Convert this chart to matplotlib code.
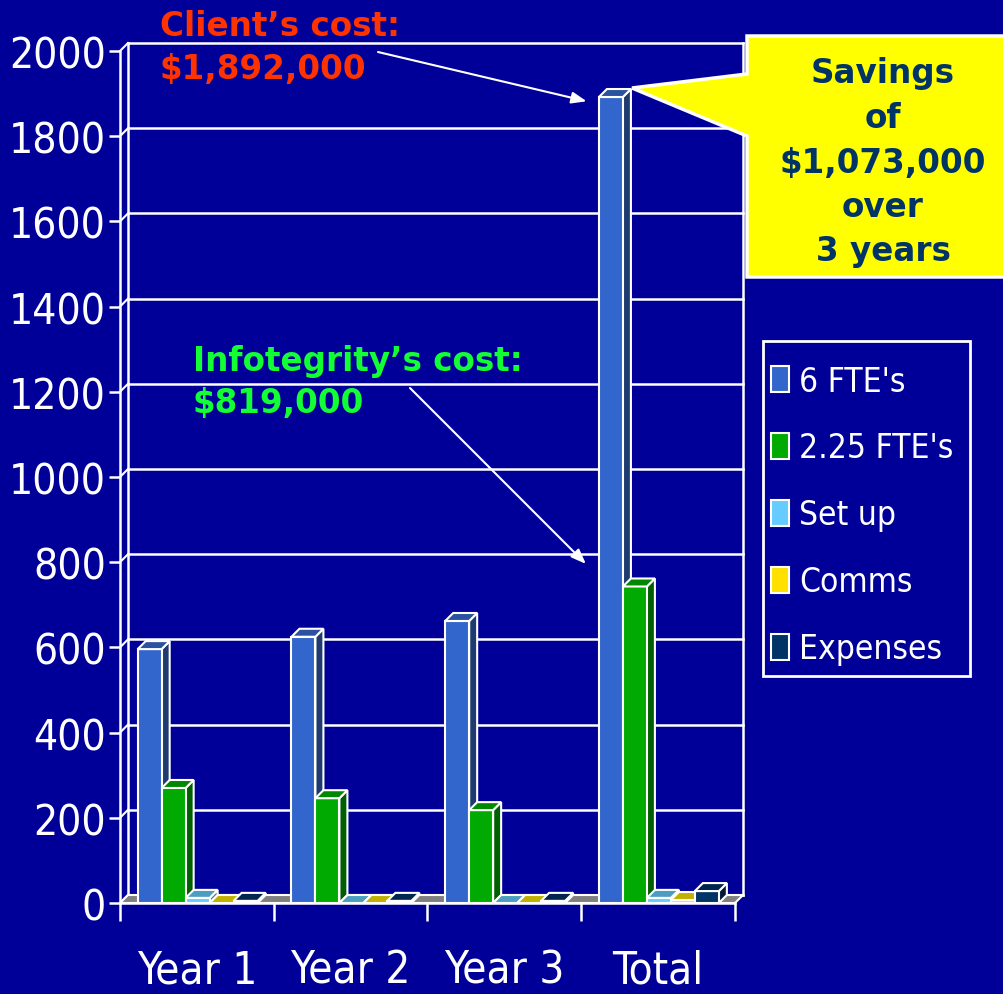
import matplotlib
matplotlib.use("Agg")
import matplotlib.pyplot as plt
from matplotlib import font_manager
from matplotlib.patches import Patch, Polygon, Rectangle

# data (thousands of $)
categories = ["Year 1", "Year 2", "Year 3", "Total"]
series_names = ["6 FTE's", "2.25 FTE's", "Set up", "Comms", "Expenses"]
six_fte = [596, 625, 662, 1892]
fte_225 = [270, 246, 218, 743]
set_up = [12, 0, 0, 12]
comms = [0, 0, 0, 7]
expenses = [5, 5, 5, 28]
values = [six_fte, fte_225, set_up, comms, expenses]
yticks = [0, 200, 400, 600, 800, 1000, 1200, 1400, 1600, 1800, 2000]

front_cols = ["#3366CC", "#00AA00", "#66CCFF", "#FFE000", "#003366"]
top_cols = ["#2A52A0", "#008800", "#4C9EC0", "#C2B000", "#002650"]
side_cols = ["#1E3A6E", "#005F00", "#3A7A96", "#9A8C00", "#001A38"]
BG = "#000099"

W, H = 1004, 995
names = {f.name for f in font_manager.fontManager.ttflist}
if "Liberation Sans Narrow" in names:
    narrow = dict(family="Liberation Sans Narrow")
    tick_fs, cat_fs, leg_fs = 37, 34, 27.5
else:
    narrow = dict(family="DejaVu Sans", stretch="condensed")
    tick_fs, cat_fs, leg_fs = 30.5, 31.5, 24

fig = plt.figure(figsize=(W / 100, H / 100), dpi=100, facecolor=BG)
ax = fig.add_axes([120 / W, (H - 904) / H, 615 / W, 852 / H])
ax.set_facecolor(BG)
ax.set_xlim(0, 4)
ax.set_ylim(0, 2000)

# depth of the fake 3d, in data units (8 px each way)
dx = 8 / 153.75
dy = 8 / 0.426
off = 0.115
w = 0.156

def fpx(x, y):
    return (x / W, 1 - y / H)

# back wall grid and frame
for v in yticks:
    ax.plot([dx, 4 + dx], [v + dy, v + dy], color="white", lw=1.8, zorder=1, clip_on=False)
    ax.plot([0, dx], [v, v + dy], color="white", lw=1.5, zorder=1, clip_on=False)
ax.plot([dx, dx], [dy, 2000 + dy], color="white", lw=1.8, zorder=1, clip_on=False)
ax.plot([4 + dx, 4 + dx], [dy, 2000 + dy], color="white", lw=1.8, zorder=1, clip_on=False)

# floor
ax.add_patch(Polygon([(0, 0), (4, 0), (4 + dx, dy), (dx, dy)], closed=True,
                     facecolor="#808080", edgecolor="white", lw=1.5, zorder=2, clip_on=False))

# bars, left to right
for i, vals in enumerate(values):
    xs = [j + off + i * w for j in range(len(categories))]
    bars = ax.bar(xs, vals, width=w, align="edge", color=front_cols[i],
                  edgecolor="white", linewidth=1.5)
    for j, (b, h) in enumerate(zip(bars, vals)):
        z = 3 + (j * 5 + i) * 0.01
        b.set_zorder(z)
        x0 = xs[j]
        x1 = x0 + w
        ax.add_patch(Polygon([(x1, 0), (x1 + dx, dy), (x1 + dx, h + dy), (x1, h)],
                             closed=True, facecolor=side_cols[i], edgecolor="white",
                             lw=1.5, zorder=z - 0.001, clip_on=False))
        ax.add_patch(Polygon([(x0, h), (x1, h), (x1 + dx, h + dy), (x0 + dx, h + dy)],
                             closed=True, facecolor=top_cols[i], edgecolor="white",
                             lw=1.5, zorder=z, clip_on=False))

# axes styling
for s in ["top", "right"]:
    ax.spines[s].set_visible(False)
for s in ["left", "bottom"]:
    ax.spines[s].set_color("white")
    ax.spines[s].set_linewidth(1.8)
    ax.spines[s].set_zorder(6)
ax.set_yticks(yticks)
ax.set_yticklabels([str(v) for v in yticks], color="white", fontsize=tick_fs, **narrow)
ax.tick_params(axis="y", length=8, width=1.8, color="white", pad=2)
ax.set_xticks([0.5, 1.5, 2.5, 3.5])
ax.set_xticklabels(categories, color="white", fontsize=cat_fs, **narrow)
ax.set_xticks([0, 1, 2, 3, 4], minor=True)
ax.tick_params(axis="x", which="major", length=0, pad=33)
ax.tick_params(axis="x", which="minor", length=13, width=1.8, color="white")

# legend with its own frame
x0, y0, x1, y1 = fpx(763, 677) + fpx(970, 342)
fig.patches.append(Rectangle((x0, y0), x1 - x0, y1 - y0, transform=fig.transFigure,
                             facecolor=BG, edgecolor="white", lw=2, zorder=4))
handles = [Patch(facecolor=c, edgecolor="white", lw=1.5) for c in front_cols]
leg = fig.legend(handles, series_names, loc="center left",
                 bbox_to_anchor=fpx(771, 516), bbox_transform=fig.transFigure,
                 borderaxespad=0, frameon=False,
                 prop=dict(size=leg_fs, **narrow), labelcolor="white",
                 handlelength=0.55, handleheight=0.85, handletextpad=0.3,
                 labelspacing=1.02, borderpad=0)
leg.set_zorder(5)

# annotations
bold = dict(family="DejaVu Sans", weight="bold", fontsize=23.5)
fig.text(*fpx(160, 26), "Client\u2019s cost:", color="#FF3300", va="center", ha="left", **bold)
fig.text(*fpx(160, 69), "$1,892,000", color="#FF3300", va="center", ha="left", **bold)
fig.text(*fpx(193, 361), "Infotegrity\u2019s cost:", color="#11FF33", va="center", ha="left", **bold)
fig.text(*fpx(193, 404), "$819,000", color="#11FF33", va="center", ha="left", **bold)

arrow = dict(arrowstyle="-|>,head_length=0.9,head_width=0.35", color="white", lw=1.5,
             shrinkA=0, shrinkB=0)
ax.annotate("", xy=(3 + off - 0.08, six_fte[3] - 10), xycoords="data",
            xytext=fpx(378, 53), textcoords="figure fraction", arrowprops=arrow, zorder=8)
ax.annotate("", xy=(3 + off - 0.085, 796), xycoords="data",
            xytext=fpx(410, 389), textcoords="figure fraction", arrowprops=arrow, zorder=8)

# yellow callout
pts = [(747, 37), (1010, 37), (1010, 278), (747, 278), (747, 137), (632, 89), (747, 75)]
fig.patches.append(Polygon([fpx(x, y) for x, y in pts], closed=True, transform=fig.transFigure,
                           facecolor="#FFFF00", edgecolor="white", lw=2.5, zorder=5))
for k, line in enumerate(["Savings", "of", "$1,073,000", "over", "3 years"]):
    fig.text(*fpx(883, 74 + k * 44.5), line, color="#003366", ha="center", va="center",
             zorder=6, **bold)

fig.savefig("out.png", dpi=100, facecolor=BG)
